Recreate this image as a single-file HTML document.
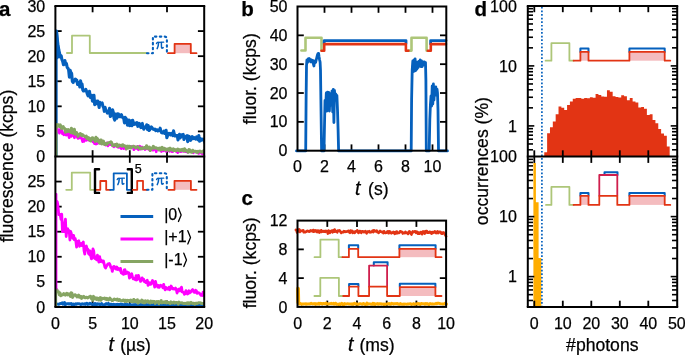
<!DOCTYPE html>
<html><head><meta charset="utf-8"><style>
html,body{margin:0;padding:0;background:#fff;overflow:hidden;}
svg{display:block;will-change:transform;}
text{stroke:currentColor;stroke-width:0.25px;}
</style></head><body>
<svg width="685" height="355" viewBox="0 0 685 355">
<defs>
<clipPath id="clipAt"><rect x="55.4" y="6.0" width="148.79999999999998" height="150.5"/></clipPath>
<clipPath id="clipAb"><rect x="55.4" y="156.5" width="148.79999999999998" height="150.39999999999998"/></clipPath>
<clipPath id="clipC"><rect x="297.5" y="220.6" width="148.60000000000002" height="86.29999999999998"/></clipPath>
</defs>
<line x1="92.60" y1="306.90" x2="92.60" y2="300.60" stroke="#000" stroke-width="1.8"/>
<line x1="92.60" y1="6.00" x2="92.60" y2="12.30" stroke="#000" stroke-width="1.8"/>
<line x1="92.60" y1="150.20" x2="92.60" y2="162.80" stroke="#000" stroke-width="1.8"/>
<line x1="129.80" y1="306.90" x2="129.80" y2="300.60" stroke="#000" stroke-width="1.8"/>
<line x1="129.80" y1="6.00" x2="129.80" y2="12.30" stroke="#000" stroke-width="1.8"/>
<line x1="129.80" y1="150.20" x2="129.80" y2="162.80" stroke="#000" stroke-width="1.8"/>
<line x1="167.00" y1="306.90" x2="167.00" y2="300.60" stroke="#000" stroke-width="1.8"/>
<line x1="167.00" y1="6.00" x2="167.00" y2="12.30" stroke="#000" stroke-width="1.8"/>
<line x1="167.00" y1="150.20" x2="167.00" y2="162.80" stroke="#000" stroke-width="1.8"/>
<line x1="55.40" y1="131.42" x2="61.70" y2="131.42" stroke="#000" stroke-width="1.8"/>
<line x1="204.20" y1="131.42" x2="197.90" y2="131.42" stroke="#000" stroke-width="1.8"/>
<line x1="55.40" y1="281.83" x2="61.70" y2="281.83" stroke="#000" stroke-width="1.8"/>
<line x1="204.20" y1="281.83" x2="197.90" y2="281.83" stroke="#000" stroke-width="1.8"/>
<line x1="55.40" y1="106.33" x2="61.70" y2="106.33" stroke="#000" stroke-width="1.8"/>
<line x1="204.20" y1="106.33" x2="197.90" y2="106.33" stroke="#000" stroke-width="1.8"/>
<line x1="55.40" y1="256.77" x2="61.70" y2="256.77" stroke="#000" stroke-width="1.8"/>
<line x1="204.20" y1="256.77" x2="197.90" y2="256.77" stroke="#000" stroke-width="1.8"/>
<line x1="55.40" y1="81.25" x2="61.70" y2="81.25" stroke="#000" stroke-width="1.8"/>
<line x1="204.20" y1="81.25" x2="197.90" y2="81.25" stroke="#000" stroke-width="1.8"/>
<line x1="55.40" y1="231.70" x2="61.70" y2="231.70" stroke="#000" stroke-width="1.8"/>
<line x1="204.20" y1="231.70" x2="197.90" y2="231.70" stroke="#000" stroke-width="1.8"/>
<line x1="55.40" y1="56.17" x2="61.70" y2="56.17" stroke="#000" stroke-width="1.8"/>
<line x1="204.20" y1="56.17" x2="197.90" y2="56.17" stroke="#000" stroke-width="1.8"/>
<line x1="55.40" y1="206.63" x2="61.70" y2="206.63" stroke="#000" stroke-width="1.8"/>
<line x1="204.20" y1="206.63" x2="197.90" y2="206.63" stroke="#000" stroke-width="1.8"/>
<line x1="55.40" y1="31.08" x2="61.70" y2="31.08" stroke="#000" stroke-width="1.8"/>
<line x1="204.20" y1="31.08" x2="197.90" y2="31.08" stroke="#000" stroke-width="1.8"/>
<line x1="55.40" y1="181.57" x2="61.70" y2="181.57" stroke="#000" stroke-width="1.8"/>
<line x1="204.20" y1="181.57" x2="197.90" y2="181.57" stroke="#000" stroke-width="1.8"/>
<g clip-path="url(#clipAt)">
<path d="M60.46,57.06 L61.20,55.80 L61.95,59.71 L62.69,61.37 L63.44,64.78 L64.18,63.67 L64.92,60.57 L65.67,64.18 L66.41,63.46 L67.16,67.33 L67.90,68.11 L68.64,70.03 L69.39,77.15 L70.13,70.20 L70.88,72.39 L71.62,73.48 L72.36,81.35 L73.11,82.51 L73.85,80.87 L74.60,80.48 L75.34,79.02 L76.08,80.97 L76.83,80.14 L77.57,84.48 L78.32,82.50 L79.06,83.10 L79.80,87.04 L80.55,80.87 L81.29,85.04 L82.04,83.96 L82.78,89.94 L83.52,91.02 L84.27,90.62 L85.01,90.66 L85.76,89.30 L86.50,91.09 L87.24,93.73 L87.99,95.82 L88.73,95.29 L89.48,91.20 L90.22,97.40 L90.96,95.21 L91.71,95.38 L92.45,101.16 L93.20,97.79 L93.94,95.23 L94.68,104.71 L95.43,101.01 L96.17,101.18 L96.92,103.73 L97.66,101.06 L98.40,103.20 L99.15,107.43 L99.89,102.34 L100.64,103.43 L101.38,103.42 L102.12,102.88 L102.87,106.19 L103.61,107.42 L104.36,111.35 L105.10,107.21 L105.84,110.61 L106.59,110.68 L107.33,113.05 L108.08,112.79 L108.82,112.20 L109.56,108.39 L110.31,116.55 L111.05,115.63 L111.80,112.15 L112.54,109.82 L113.28,112.23 L114.03,118.26 L114.77,120.05 L115.52,113.98 L116.26,116.84 L117.00,118.10 L117.75,113.87 L118.49,114.02 L119.24,116.50 L119.98,116.72 L120.72,116.71 L121.47,114.61 L122.21,117.11 L122.96,117.71 L123.70,118.04 L124.44,122.89 L125.19,117.26 L125.93,118.33 L126.68,119.59 L127.42,125.13 L128.16,122.71 L128.91,120.04 L129.65,125.81 L130.40,122.84 L131.14,120.76 L131.88,125.78 L132.63,120.28 L133.37,122.73 L134.12,124.35 L134.86,123.62 L135.60,123.19 L136.35,124.43 L137.09,122.63 L137.84,126.35 L138.58,126.07 L139.32,123.45 L140.07,125.61 L140.81,127.55 L141.56,124.23 L142.30,123.44 L143.04,127.28 L143.79,129.24 L144.53,127.06 L145.28,127.28 L146.02,127.74 L146.76,124.73 L147.51,129.53 L148.25,125.52 L149.00,130.47 L149.74,129.82 L150.48,127.46 L151.23,126.81 L151.97,127.55 L152.72,128.73 L153.46,129.34 L154.20,129.56 L154.95,129.05 L155.69,130.62 L156.44,130.05 L157.18,129.76 L157.92,131.00 L158.67,129.89 L159.41,130.47 L160.16,128.20 L160.90,131.33 L161.64,132.84 L162.39,132.96 L163.13,132.57 L163.88,131.19 L164.62,133.53 L165.36,132.53 L166.11,130.32 L166.85,137.81 L167.60,135.55 L168.34,133.43 L169.08,133.32 L169.83,133.73 L170.57,134.97 L171.32,133.34 L172.06,134.09 L172.80,135.53 L173.55,130.90 L174.29,134.39 L175.04,135.99 L175.78,135.40 L176.52,135.73 L177.27,135.61 L178.01,139.97 L178.76,136.54 L179.50,134.32 L180.24,137.89 L180.99,136.31 L181.73,134.87 L182.48,135.18 L183.22,134.35 L183.96,139.43 L184.71,137.49 L185.45,137.62 L186.20,136.29 L186.94,135.73 L187.68,141.59 L188.43,136.03 L189.17,139.98 L189.92,136.93 L190.66,140.31 L191.40,137.96 L192.15,136.60 L192.89,138.72 L193.64,138.35 L194.38,137.60 L195.12,138.69 L195.87,139.16 L196.61,136.94 L197.36,137.78 L198.10,139.84 L198.84,135.62 L199.59,141.30 L200.33,138.50 L201.08,140.30 L201.82,139.83 L202.56,139.11 L203.31,139.87 L204.05,139.37 L204.80,142.48" fill="none" stroke="#0560bd" stroke-width="3.1" stroke-linejoin="round" stroke-linecap="round" />
<path d="M56.2,31.2 L58.0,31.3 L59.5,50 L60.6,57 L56.2,60 Z" fill="#0560bd"/>
<path d="M56.14,156.50 L56.14,33.09 L56.52,31.08 L57.04,37.10 L57.93,44.13 L58.90,50.15 L59.86,54.16 L60.61,56.17" fill="none" stroke="#0560bd" stroke-width="3.0" stroke-linejoin="round" stroke-linecap="round" />
<path d="M56.52,131.39 L57.26,128.40 L58.00,131.45 L58.75,132.02 L59.49,133.18 L60.24,129.31 L60.98,130.59 L61.72,129.92 L62.47,133.99 L63.21,132.81 L63.96,134.80 L64.70,132.17 L65.44,131.19 L66.19,135.15 L66.93,131.75 L67.68,132.86 L68.42,134.82 L69.16,137.68 L69.91,132.99 L70.65,135.40 L71.40,136.36 L72.14,135.15 L72.88,135.37 L73.63,134.05 L74.37,137.83 L75.12,135.02 L75.86,134.76 L76.60,135.03 L77.35,137.50 L78.09,138.48 L78.84,136.28 L79.58,137.72 L80.32,137.91 L81.07,136.37 L81.81,138.83 L82.56,141.71 L83.30,139.38 L84.04,141.48 L84.79,138.18 L85.53,139.02 L86.28,140.41 L87.02,139.82 L87.76,138.92 L88.51,140.06 L89.25,138.67 L90.00,140.59 L90.74,139.39 L91.48,139.01 L92.23,139.05 L92.97,142.02 L93.72,140.28 L94.46,143.79 L95.20,142.98 L95.95,144.19 L96.69,140.71 L97.44,143.61 L98.18,142.31 L98.92,142.67 L99.67,142.63 L100.41,143.43 L101.16,142.62 L101.90,140.97 L102.64,143.12 L103.39,142.71 L104.13,142.32 L104.88,143.82 L105.62,145.14 L106.36,144.49 L107.11,142.81 L107.85,145.95 L108.60,144.92 L109.34,143.30 L110.08,143.66 L110.83,144.64 L111.57,143.91 L112.32,144.72 L113.06,146.27 L113.80,146.80 L114.55,145.94 L115.29,144.42 L116.04,146.09 L116.78,146.55 L117.52,146.53 L118.27,147.42 L119.01,146.08 L119.76,147.27 L120.50,145.82 L121.24,148.66 L121.99,146.07 L122.73,147.14 L123.48,148.53 L124.22,146.01 L124.96,147.09 L125.71,149.09 L126.45,147.87 L127.20,146.85 L127.94,147.66 L128.68,146.58 L129.43,146.72 L130.17,146.88 L130.92,147.27 L131.66,146.40 L132.40,147.10 L133.15,147.37 L133.89,149.78 L134.64,147.10 L135.38,146.80 L136.12,148.33 L136.87,148.55 L137.61,146.44 L138.36,149.84 L139.10,147.90 L139.84,146.22 L140.59,149.28 L141.33,147.91 L142.08,146.92 L142.82,148.75 L143.56,148.21 L144.31,147.98 L145.05,149.61 L145.80,148.97 L146.54,148.70 L147.28,148.30 L148.03,149.10 L148.77,149.29 L149.52,150.05 L150.26,149.55 L151.00,148.55 L151.75,149.27 L152.49,150.13 L153.24,150.17 L153.98,147.32 L154.72,148.64 L155.47,149.11 L156.21,151.81 L156.96,149.24 L157.70,149.41 L158.44,148.49 L159.19,149.56 L159.93,150.01 L160.68,149.59 L161.42,151.61 L162.16,149.29 L162.91,149.90 L163.65,150.76 L164.40,149.22 L165.14,148.90 L165.88,151.45 L166.63,150.92 L167.37,150.23 L168.12,150.36 L168.86,150.86 L169.60,151.34 L170.35,149.04 L171.09,149.91 L171.84,151.64 L172.58,151.79 L173.32,149.56 L174.07,150.14 L174.81,149.57 L175.56,150.36 L176.30,151.65 L177.04,150.86 L177.79,152.67 L178.53,151.68 L179.28,151.22 L180.02,150.84 L180.76,151.78 L181.51,151.39 L182.25,151.02 L183.00,151.12 L183.74,150.98 L184.48,151.32 L185.23,151.73 L185.97,150.99 L186.72,151.55 L187.46,152.20 L188.20,152.09 L188.95,151.70 L189.69,151.81 L190.44,151.67 L191.18,151.81 L191.92,151.73 L192.67,151.98 L193.41,152.77 L194.16,151.68 L194.90,151.30 L195.64,151.74 L196.39,152.19 L197.13,151.81 L197.88,152.77 L198.62,153.41 L199.36,152.17 L200.11,152.84 L200.85,151.80 L201.60,153.00 L202.34,154.02 L203.08,153.04 L203.83,151.40 L204.57,152.68" fill="none" stroke="#ff00ff" stroke-width="2.6" stroke-linejoin="round" stroke-linecap="round" />
<path d="M56.52,127.00 L57.26,126.47 L58.00,124.68 L58.75,125.34 L59.49,126.54 L60.24,124.76 L60.98,126.76 L61.72,128.62 L62.47,128.09 L63.21,126.66 L63.96,128.14 L64.70,128.34 L65.44,132.24 L66.19,130.90 L66.93,129.68 L67.68,131.68 L68.42,129.64 L69.16,130.70 L69.91,130.45 L70.65,132.56 L71.40,128.27 L72.14,130.68 L72.88,133.31 L73.63,133.05 L74.37,129.26 L75.12,134.23 L75.86,132.52 L76.60,132.59 L77.35,134.37 L78.09,136.44 L78.84,134.54 L79.58,134.50 L80.32,133.53 L81.07,134.30 L81.81,135.68 L82.56,134.63 L83.30,135.33 L84.04,136.05 L84.79,136.48 L85.53,137.13 L86.28,135.96 L87.02,138.73 L87.76,138.30 L88.51,137.57 L89.25,139.90 L90.00,138.59 L90.74,141.05 L91.48,139.32 L92.23,137.75 L92.97,138.00 L93.72,139.11 L94.46,139.58 L95.20,141.45 L95.95,137.19 L96.69,139.23 L97.44,138.66 L98.18,141.56 L98.92,140.83 L99.67,143.21 L100.41,139.96 L101.16,139.97 L101.90,143.88 L102.64,141.67 L103.39,140.98 L104.13,144.24 L104.88,144.50 L105.62,143.71 L106.36,143.35 L107.11,144.49 L107.85,142.88 L108.60,142.79 L109.34,142.50 L110.08,142.60 L110.83,141.81 L111.57,142.37 L112.32,145.46 L113.06,144.61 L113.80,145.39 L114.55,145.52 L115.29,144.47 L116.04,144.48 L116.78,144.04 L117.52,146.55 L118.27,146.26 L119.01,144.97 L119.76,145.29 L120.50,145.52 L121.24,145.35 L121.99,146.24 L122.73,144.71 L123.48,145.21 L124.22,145.80 L124.96,146.55 L125.71,146.11 L126.45,148.98 L127.20,147.18 L127.94,146.18 L128.68,147.93 L129.43,146.20 L130.17,146.35 L130.92,148.03 L131.66,146.91 L132.40,147.05 L133.15,146.31 L133.89,146.22 L134.64,146.97 L135.38,147.88 L136.12,147.22 L136.87,147.21 L137.61,146.45 L138.36,146.97 L139.10,148.08 L139.84,148.78 L140.59,147.85 L141.33,148.28 L142.08,148.72 L142.82,147.79 L143.56,148.22 L144.31,147.69 L145.05,147.34 L145.80,148.33 L146.54,145.71 L147.28,148.36 L148.03,147.04 L148.77,148.05 L149.52,147.15 L150.26,150.58 L151.00,149.07 L151.75,148.17 L152.49,147.90 L153.24,146.31 L153.98,148.28 L154.72,147.44 L155.47,147.98 L156.21,147.87 L156.96,148.34 L157.70,149.01 L158.44,148.45 L159.19,149.97 L159.93,147.95 L160.68,150.02 L161.42,148.92 L162.16,147.27 L162.91,149.45 L163.65,149.28 L164.40,148.31 L165.14,149.38 L165.88,150.18 L166.63,149.28 L167.37,149.04 L168.12,148.98 L168.86,150.34 L169.60,148.18 L170.35,148.31 L171.09,149.79 L171.84,149.62 L172.58,150.28 L173.32,148.74 L174.07,150.60 L174.81,149.47 L175.56,150.50 L176.30,150.73 L177.04,149.58 L177.79,149.11 L178.53,150.29 L179.28,150.89 L180.02,149.69 L180.76,150.46 L181.51,150.20 L182.25,149.25 L183.00,149.62 L183.74,151.01 L184.48,148.77 L185.23,150.67 L185.97,150.08 L186.72,151.28 L187.46,150.84 L188.20,152.24 L188.95,149.46 L189.69,149.84 L190.44,151.93 L191.18,152.19 L191.92,152.32 L192.67,150.17 L193.41,151.48 L194.16,151.21 L194.90,151.44 L195.64,151.33 L196.39,152.11 L197.13,151.30 L197.88,152.45 L198.62,151.45 L199.36,151.20 L200.11,151.11 L200.85,151.68 L201.60,152.22 L202.34,151.46 L203.08,151.97 L203.83,150.49 L204.57,151.12" fill="none" stroke="#86a563" stroke-width="3.0" stroke-linejoin="round" stroke-linecap="round" />
<path d="M56.52,156.50 L56.52,123.89" fill="none" stroke="#86a563" stroke-width="2.0" stroke-linejoin="round" stroke-linecap="round" />
</g>
<g clip-path="url(#clipAb)">
<path d="M56.29,303.85 L57.04,304.02 L57.78,304.14 L58.52,304.26 L59.27,303.99 L60.01,303.69 L60.76,303.60 L61.50,303.58 L62.24,302.87 L62.99,304.19 L63.73,303.86 L64.48,302.57 L65.22,304.75 L65.96,304.13 L66.71,303.82 L67.45,303.83 L68.20,303.72 L68.94,304.03 L69.68,303.76 L70.43,303.91 L71.17,303.59 L71.92,304.82 L72.66,304.36 L73.40,303.96 L74.15,304.44 L74.89,304.46 L75.64,303.70 L76.38,304.29 L77.12,303.71 L77.87,303.67 L78.61,303.87 L79.36,303.79 L80.10,304.07 L80.84,304.68 L81.59,304.05 L82.33,303.84 L83.08,304.29 L83.82,304.11 L84.56,303.73 L85.31,304.47 L86.05,303.79 L86.80,303.25 L87.54,304.35 L88.28,304.04 L89.03,304.18 L89.77,303.43 L90.52,303.98 L91.26,303.73 L92.00,304.45 L92.75,304.15 L93.49,304.16 L94.24,304.96 L94.98,303.54 L95.72,303.80 L96.47,304.98 L97.21,303.89 L97.96,304.29 L98.70,304.05 L99.44,304.10 L100.19,304.92 L100.93,304.37 L101.68,303.64 L102.42,304.55 L103.16,304.76 L103.91,304.91 L104.65,304.86 L105.40,304.21 L106.14,303.64 L106.88,304.19 L107.63,304.28 L108.37,303.45 L109.12,304.63 L109.86,304.70 L110.60,304.21 L111.35,304.21 L112.09,304.88 L112.84,304.95 L113.58,304.35 L114.32,304.38 L115.07,305.04 L115.81,304.59 L116.56,304.74 L117.30,304.34 L118.04,304.59 L118.79,304.59 L119.53,304.71 L120.28,304.14 L121.02,304.01 L121.76,304.74 L122.51,304.26 L123.25,304.92 L124.00,304.60 L124.74,304.33 L125.48,304.03 L126.23,304.81 L126.97,304.70 L127.72,304.60 L128.46,305.28 L129.20,304.69 L129.95,304.97 L130.69,304.57 L131.44,305.17 L132.18,305.52 L132.92,304.73 L133.67,304.65 L134.41,304.98 L135.16,304.43 L135.90,304.89 L136.64,305.03 L137.39,304.62 L138.13,305.42 L138.88,305.08 L139.62,304.84 L140.36,304.51 L141.11,304.91 L141.85,304.74 L142.60,305.12 L143.34,304.76 L144.08,304.25 L144.83,305.16 L145.57,304.00 L146.32,305.15 L147.06,304.91 L147.80,304.86 L148.55,304.54 L149.29,305.40 L150.04,305.73 L150.78,304.72 L151.52,304.66 L152.27,304.73 L153.01,303.99 L153.76,304.90 L154.50,304.89 L155.24,304.65 L155.99,304.86 L156.73,304.39 L157.48,305.47 L158.22,305.16 L158.96,306.29 L159.71,304.73 L160.45,305.17 L161.20,304.71 L161.94,304.26 L162.68,305.06 L163.43,305.16 L164.17,305.25 L164.92,305.38 L165.66,305.31 L166.40,304.86 L167.15,305.08 L167.89,305.08 L168.64,305.17 L169.38,304.79 L170.12,304.94 L170.87,305.18 L171.61,304.90 L172.36,305.19 L173.10,305.56 L173.84,304.64 L174.59,304.99 L175.33,305.50 L176.08,304.79 L176.82,305.06 L177.56,305.73 L178.31,304.62 L179.05,305.08 L179.80,304.89 L180.54,305.14 L181.28,305.26 L182.03,305.76 L182.77,304.89 L183.52,305.22 L184.26,305.34 L185.00,305.12 L185.75,305.22 L186.49,305.02 L187.24,305.39 L187.98,305.28 L188.72,306.00 L189.47,305.42 L190.21,305.05 L190.96,304.83 L191.70,305.42 L192.44,305.34 L193.19,304.77 L193.93,305.42 L194.68,305.07 L195.42,304.75 L196.16,305.31 L196.91,304.92 L197.65,305.58 L198.40,305.27 L199.14,305.37 L199.88,305.32 L200.63,304.98 L201.37,304.57 L202.12,305.59 L202.86,305.57 L203.60,305.22 L204.35,305.74" fill="none" stroke="#0560bd" stroke-width="3.0" stroke-linejoin="round" stroke-linecap="round" />
<path d="M56.29,289.26 L57.04,290.05 L57.78,291.86 L58.52,291.74 L59.27,294.75 L60.01,292.98 L60.76,295.76 L61.50,294.96 L62.24,294.90 L62.99,294.82 L63.73,293.61 L64.48,294.49 L65.22,295.06 L65.96,294.18 L66.71,293.22 L67.45,294.89 L68.20,294.61 L68.94,293.81 L69.68,294.86 L70.43,296.49 L71.17,292.82 L71.92,293.18 L72.66,297.39 L73.40,295.55 L74.15,295.18 L74.89,294.72 L75.64,295.09 L76.38,296.08 L77.12,296.91 L77.87,295.90 L78.61,295.12 L79.36,297.26 L80.10,297.30 L80.84,296.45 L81.59,298.35 L82.33,296.88 L83.08,297.15 L83.82,296.43 L84.56,297.59 L85.31,297.85 L86.05,297.50 L86.80,297.28 L87.54,297.93 L88.28,297.42 L89.03,296.86 L89.77,296.57 L90.52,296.21 L91.26,298.49 L92.00,298.26 L92.75,300.12 L93.49,296.39 L94.24,298.73 L94.98,298.20 L95.72,297.80 L96.47,299.47 L97.21,297.99 L97.96,298.47 L98.70,300.06 L99.44,298.34 L100.19,297.65 L100.93,300.27 L101.68,298.11 L102.42,298.67 L103.16,298.52 L103.91,298.61 L104.65,297.97 L105.40,299.28 L106.14,298.45 L106.88,299.55 L107.63,298.70 L108.37,300.00 L109.12,299.49 L109.86,298.09 L110.60,299.17 L111.35,299.71 L112.09,300.54 L112.84,300.32 L113.58,299.61 L114.32,299.08 L115.07,299.54 L115.81,299.52 L116.56,300.01 L117.30,299.01 L118.04,300.39 L118.79,300.56 L119.53,299.53 L120.28,300.20 L121.02,300.51 L121.76,300.79 L122.51,300.60 L123.25,300.00 L124.00,300.25 L124.74,301.45 L125.48,300.30 L126.23,300.53 L126.97,301.44 L127.72,300.21 L128.46,301.01 L129.20,301.10 L129.95,300.34 L130.69,300.02 L131.44,301.49 L132.18,300.74 L132.92,301.71 L133.67,299.52 L134.41,301.52 L135.16,300.38 L135.90,301.69 L136.64,300.71 L137.39,299.78 L138.13,303.08 L138.88,301.66 L139.62,301.06 L140.36,301.49 L141.11,301.91 L141.85,300.03 L142.60,301.47 L143.34,302.66 L144.08,301.01 L144.83,302.77 L145.57,300.88 L146.32,302.06 L147.06,301.61 L147.80,300.90 L148.55,301.68 L149.29,302.71 L150.04,302.93 L150.78,301.08 L151.52,301.39 L152.27,302.44 L153.01,301.38 L153.76,301.64 L154.50,301.57 L155.24,303.47 L155.99,302.24 L156.73,301.50 L157.48,301.63 L158.22,301.57 L158.96,303.71 L159.71,302.08 L160.45,301.90 L161.20,300.63 L161.94,302.86 L162.68,302.49 L163.43,302.29 L164.17,301.79 L164.92,302.64 L165.66,301.68 L166.40,302.90 L167.15,302.28 L167.89,302.79 L168.64,302.40 L169.38,302.94 L170.12,303.51 L170.87,301.91 L171.61,302.41 L172.36,302.95 L173.10,302.52 L173.84,302.07 L174.59,303.27 L175.33,302.78 L176.08,302.42 L176.82,302.45 L177.56,302.98 L178.31,304.05 L179.05,302.10 L179.80,302.66 L180.54,302.87 L181.28,303.06 L182.03,302.77 L182.77,303.19 L183.52,303.56 L184.26,303.42 L185.00,303.36 L185.75,303.39 L186.49,303.72 L187.24,302.72 L187.98,303.84 L188.72,302.75 L189.47,303.71 L190.21,302.96 L190.96,302.39 L191.70,303.06 L192.44,303.60 L193.19,303.17 L193.93,303.13 L194.68,304.19 L195.42,303.57 L196.16,303.16 L196.91,303.52 L197.65,303.23 L198.40,302.87 L199.14,302.87 L199.88,302.80 L200.63,302.99 L201.37,303.48 L202.12,303.35 L202.86,303.50 L203.60,303.53 L204.35,303.47" fill="none" stroke="#86a563" stroke-width="3.0" stroke-linejoin="round" stroke-linecap="round" />
<path d="M56.52,201.33 L57.26,201.76 L58.00,206.06 L58.75,214.56 L59.49,214.15 L60.24,214.66 L60.98,219.26 L61.72,214.04 L62.47,231.66 L63.21,225.35 L63.96,231.55 L64.70,223.49 L65.44,219.13 L66.19,236.48 L66.93,229.08 L67.68,228.78 L68.42,232.25 L69.16,230.50 L69.91,240.00 L70.65,231.37 L71.40,233.71 L72.14,235.63 L72.88,238.31 L73.63,235.47 L74.37,239.64 L75.12,238.36 L75.86,241.32 L76.60,247.18 L77.35,241.51 L78.09,241.63 L78.84,240.83 L79.58,246.26 L80.32,244.62 L81.07,243.54 L81.81,245.61 L82.56,243.30 L83.30,241.97 L84.04,250.68 L84.79,254.14 L85.53,247.23 L86.28,246.03 L87.02,248.28 L87.76,249.18 L88.51,253.58 L89.25,254.40 L90.00,250.76 L90.74,256.04 L91.48,258.94 L92.23,257.36 L92.97,248.92 L93.72,250.95 L94.46,258.16 L95.20,258.79 L95.95,256.89 L96.69,259.87 L97.44,255.24 L98.18,259.21 L98.92,262.15 L99.67,256.64 L100.41,261.67 L101.16,260.09 L101.90,261.04 L102.64,262.14 L103.39,260.97 L104.13,263.79 L104.88,266.90 L105.62,268.11 L106.36,266.22 L107.11,265.37 L107.85,263.99 L108.60,264.16 L109.34,263.46 L110.08,264.93 L110.83,267.49 L111.57,267.73 L112.32,271.38 L113.06,267.38 L113.80,266.34 L114.55,266.67 L115.29,268.55 L116.04,269.09 L116.78,267.06 L117.52,269.50 L118.27,268.33 L119.01,269.08 L119.76,270.28 L120.50,268.33 L121.24,272.74 L121.99,272.66 L122.73,273.99 L123.48,274.33 L124.22,269.79 L124.96,269.75 L125.71,273.72 L126.45,272.96 L127.20,272.09 L127.94,273.20 L128.68,272.75 L129.43,278.06 L130.17,277.15 L130.92,275.31 L131.66,273.71 L132.40,276.67 L133.15,278.88 L133.89,278.21 L134.64,279.12 L135.38,279.81 L136.12,275.61 L136.87,279.97 L137.61,279.05 L138.36,275.33 L139.10,277.48 L139.84,279.36 L140.59,281.41 L141.33,279.81 L142.08,277.89 L142.82,280.01 L143.56,279.14 L144.31,281.52 L145.05,281.01 L145.80,282.50 L146.54,281.59 L147.28,280.25 L148.03,285.27 L148.77,283.07 L149.52,282.73 L150.26,284.34 L151.00,284.08 L151.75,282.38 L152.49,280.50 L153.24,283.05 L153.98,283.76 L154.72,287.13 L155.47,281.43 L156.21,284.74 L156.96,285.11 L157.70,287.10 L158.44,285.51 L159.19,287.40 L159.93,285.65 L160.68,285.18 L161.42,286.06 L162.16,285.83 L162.91,287.84 L163.65,284.32 L164.40,287.85 L165.14,289.87 L165.88,287.43 L166.63,288.50 L167.37,289.05 L168.12,288.17 L168.86,287.32 L169.60,289.78 L170.35,288.31 L171.09,286.04 L171.84,287.35 L172.58,288.79 L173.32,288.51 L174.07,289.04 L174.81,289.08 L175.56,288.05 L176.30,289.44 L177.04,293.05 L177.79,289.63 L178.53,291.06 L179.28,288.92 L180.02,290.92 L180.76,289.94 L181.51,287.12 L182.25,291.96 L183.00,292.20 L183.74,292.74 L184.48,294.28 L185.23,293.66 L185.97,290.59 L186.72,292.15 L187.46,294.01 L188.20,293.58 L188.95,290.76 L189.69,292.83 L190.44,292.39 L191.18,291.55 L191.92,290.26 L192.67,289.59 L193.41,290.96 L194.16,292.30 L194.90,292.36 L195.64,290.30 L196.39,290.93 L197.13,293.38 L197.88,292.47 L198.62,292.81 L199.36,293.24 L200.11,294.05 L200.85,295.20 L201.60,294.22 L202.34,295.60 L203.08,292.05 L203.83,293.01 L204.57,295.34" fill="none" stroke="#ff00ff" stroke-width="2.8" stroke-linejoin="round" stroke-linecap="round" />
<path d="M56.29,289.85 L56.29,194.10" fill="none" stroke="#ff00ff" stroke-width="2.2" stroke-linejoin="round" stroke-linecap="round" />
<path d="M56.14,306.90 L56.14,289.85" fill="none" stroke="#86a563" stroke-width="2.0" stroke-linejoin="round" stroke-linecap="round" />
</g>
<path d="M66.9,53.0 H72 V35.7 H89.8 V53.0 H147" fill="none" stroke="#adc679" stroke-width="1.8" stroke-linejoin="round" stroke-linecap="round" />
<rect x="174.6" y="43.8" width="16.2" height="9.4" fill="#f4bcbf"/>
<path d="M168,53.2 H174.6 V43.8 H190.8 V53.2 H196.5" fill="none" stroke="#e23414" stroke-width="1.8" stroke-linejoin="round" stroke-linecap="round" />
<path d="M147,53.2 H152.9 V36.6 H164.6 Q166.9,36.6 166.9,39 V53.2" fill="none" stroke="#0560bd" stroke-width="2.1" stroke-linejoin="round" stroke-linecap="round" stroke-dasharray="1.5,3.4"/>
<g transform="translate(156.20,41.90)" fill="none" stroke="#0560bd" stroke-linecap="round" stroke-linejoin="round"><path d="M0.25,1.75 Q0.7,0.35 1.9,0.4 L7.45,0.3" stroke-width="1.35"/><path d="M2.35,0.6 Q2.3,4.3 0.95,6.7" stroke-width="1.55"/><path d="M5.15,0.6 L5.3,5.5 Q5.5,7.0 7.0,5.7" stroke-width="1.45"/></g>
<path d="M66.2,189.8 H71.8 V172.6 H90.2 V189.8 H93.8" fill="none" stroke="#adc679" stroke-width="1.8" stroke-linejoin="round" stroke-linecap="round" />
<path d="M96,189.8 H100.3 V181 H106.2 V189.8 H110.1" fill="none" stroke="#e23414" stroke-width="1.8" stroke-linejoin="round" stroke-linecap="round" />
<path d="M110.1,189.8 H113.7 V173.3 H126.9 V189.8 H131" fill="none" stroke="#0560bd" stroke-width="1.8" stroke-linejoin="round" stroke-linecap="round" />
<g transform="translate(116.90,177.90)" fill="none" stroke="#0560bd" stroke-linecap="round" stroke-linejoin="round"><path d="M0.25,1.75 Q0.7,0.35 1.9,0.4 L7.45,0.3" stroke-width="1.35"/><path d="M2.35,0.6 Q2.3,4.3 0.95,6.7" stroke-width="1.55"/><path d="M5.15,0.6 L5.3,5.5 Q5.5,7.0 7.0,5.7" stroke-width="1.45"/></g>
<path d="M99.1,169.2 H95 V192.9 H99.1" fill="none" stroke="#000" stroke-width="2.4" stroke-linejoin="round" stroke-linecap="round" stroke-linecap="butt" stroke-linejoin="miter"/>
<path d="M127.8,169.2 H131.8 V192.9 H127.8" fill="none" stroke="#000" stroke-width="2.4" stroke-linejoin="round" stroke-linecap="round" stroke-linecap="butt" stroke-linejoin="miter"/>
<text x="138.20" y="173.40" font-size="12.5" text-anchor="middle" fill="#000" font-family='"Liberation Sans", sans-serif' >5</text>
<path d="M132.9,189.8 H137.2 V180.8 H143 V189.8 H147" fill="none" stroke="#e23414" stroke-width="1.8" stroke-linejoin="round" stroke-linecap="round" />
<path d="M147,189.8 H152.4 V173.2 H164.5 Q166.8,173.2 166.8,175.5 V189.8" fill="none" stroke="#0560bd" stroke-width="2.1" stroke-linejoin="round" stroke-linecap="round" stroke-dasharray="1.5,3.4"/>
<g transform="translate(156.30,177.90)" fill="none" stroke="#0560bd" stroke-linecap="round" stroke-linejoin="round"><path d="M0.25,1.75 Q0.7,0.35 1.9,0.4 L7.45,0.3" stroke-width="1.35"/><path d="M2.35,0.6 Q2.3,4.3 0.95,6.7" stroke-width="1.55"/><path d="M5.15,0.6 L5.3,5.5 Q5.5,7.0 7.0,5.7" stroke-width="1.45"/></g>
<rect x="174.5" y="180.8" width="16.4" height="9" fill="#f4bcbf"/>
<path d="M168.4,189.8 H174.5 V180.8 H190.9 V189.8 H196.5" fill="none" stroke="#e23414" stroke-width="1.8" stroke-linejoin="round" stroke-linecap="round" />
<line x1="120.50" y1="216.50" x2="153.20" y2="216.50" stroke="#0560bd" stroke-width="3.0"/>
<text x="164.20" y="219.50" font-size="16" text-anchor="start" fill="#000" font-family='"Liberation Sans", sans-serif' >|0</text>
<path d="M178.46,208.20 L181.16,214.90 L178.46,221.50" fill="none" stroke="#000" stroke-width="1.3" stroke-linejoin="round" stroke-linecap="round" stroke-linecap="butt" stroke-linejoin="miter"/>
<line x1="120.50" y1="239.00" x2="153.20" y2="239.00" stroke="#ff00ff" stroke-width="3.0"/>
<text x="164.20" y="242.00" font-size="16" text-anchor="start" fill="#000" font-family='"Liberation Sans", sans-serif' >|+1</text>
<path d="M187.80,230.70 L190.50,237.40 L187.80,244.00" fill="none" stroke="#000" stroke-width="1.3" stroke-linejoin="round" stroke-linecap="round" stroke-linecap="butt" stroke-linejoin="miter"/>
<line x1="120.50" y1="261.50" x2="153.20" y2="261.50" stroke="#86a563" stroke-width="3.0"/>
<text x="164.20" y="264.50" font-size="16" text-anchor="start" fill="#000" font-family='"Liberation Sans", sans-serif' >|-1</text>
<path d="M183.79,253.20 L186.49,259.90 L183.79,266.50" fill="none" stroke="#000" stroke-width="1.3" stroke-linejoin="round" stroke-linecap="round" stroke-linecap="butt" stroke-linejoin="miter"/>
<line x1="54.40" y1="6.00" x2="205.20" y2="6.00" stroke="#000" stroke-width="2.0"/>
<line x1="54.40" y1="156.50" x2="205.20" y2="156.50" stroke="#000" stroke-width="2.0"/>
<line x1="54.40" y1="306.90" x2="205.20" y2="306.90" stroke="#000" stroke-width="2.0"/>
<line x1="55.40" y1="6.00" x2="55.40" y2="306.90" stroke="#000" stroke-width="2.0"/>
<line x1="204.20" y1="6.00" x2="204.20" y2="306.90" stroke="#000" stroke-width="2.0"/>
<text x="45.20" y="162.10" font-size="16" text-anchor="end" fill="#000" font-family='"Liberation Sans", sans-serif' >0</text>
<text x="45.20" y="137.02" font-size="16" text-anchor="end" fill="#000" font-family='"Liberation Sans", sans-serif' >5</text>
<text x="45.20" y="111.93" font-size="16" text-anchor="end" fill="#000" font-family='"Liberation Sans", sans-serif' >10</text>
<text x="45.20" y="86.85" font-size="16" text-anchor="end" fill="#000" font-family='"Liberation Sans", sans-serif' >15</text>
<text x="45.20" y="61.77" font-size="16" text-anchor="end" fill="#000" font-family='"Liberation Sans", sans-serif' >20</text>
<text x="45.20" y="36.68" font-size="16" text-anchor="end" fill="#000" font-family='"Liberation Sans", sans-serif' >25</text>
<text x="45.20" y="11.60" font-size="16" text-anchor="end" fill="#000" font-family='"Liberation Sans", sans-serif' >30</text>
<text x="45.20" y="312.50" font-size="16" text-anchor="end" fill="#000" font-family='"Liberation Sans", sans-serif' >0</text>
<text x="45.20" y="287.43" font-size="16" text-anchor="end" fill="#000" font-family='"Liberation Sans", sans-serif' >5</text>
<text x="45.20" y="262.37" font-size="16" text-anchor="end" fill="#000" font-family='"Liberation Sans", sans-serif' >10</text>
<text x="45.20" y="237.30" font-size="16" text-anchor="end" fill="#000" font-family='"Liberation Sans", sans-serif' >15</text>
<text x="45.20" y="212.23" font-size="16" text-anchor="end" fill="#000" font-family='"Liberation Sans", sans-serif' >20</text>
<text x="45.20" y="187.17" font-size="16" text-anchor="end" fill="#000" font-family='"Liberation Sans", sans-serif' >25</text>
<text x="55.40" y="329.00" font-size="16" text-anchor="middle" fill="#000" font-family='"Liberation Sans", sans-serif' >0</text>
<text x="92.60" y="329.00" font-size="16" text-anchor="middle" fill="#000" font-family='"Liberation Sans", sans-serif' >5</text>
<text x="129.80" y="329.00" font-size="16" text-anchor="middle" fill="#000" font-family='"Liberation Sans", sans-serif' >10</text>
<text x="167.00" y="329.00" font-size="16" text-anchor="middle" fill="#000" font-family='"Liberation Sans", sans-serif' >15</text>
<text x="204.20" y="329.00" font-size="16" text-anchor="middle" fill="#000" font-family='"Liberation Sans", sans-serif' >20</text>
<line x1="324.50" y1="150.70" x2="324.50" y2="144.40" stroke="#000" stroke-width="1.8"/>
<line x1="324.50" y1="6.50" x2="324.50" y2="12.80" stroke="#000" stroke-width="1.8"/>
<line x1="351.50" y1="150.70" x2="351.50" y2="144.40" stroke="#000" stroke-width="1.8"/>
<line x1="351.50" y1="6.50" x2="351.50" y2="12.80" stroke="#000" stroke-width="1.8"/>
<line x1="378.50" y1="150.70" x2="378.50" y2="144.40" stroke="#000" stroke-width="1.8"/>
<line x1="378.50" y1="6.50" x2="378.50" y2="12.80" stroke="#000" stroke-width="1.8"/>
<line x1="405.50" y1="150.70" x2="405.50" y2="144.40" stroke="#000" stroke-width="1.8"/>
<line x1="405.50" y1="6.50" x2="405.50" y2="12.80" stroke="#000" stroke-width="1.8"/>
<line x1="432.50" y1="150.70" x2="432.50" y2="144.40" stroke="#000" stroke-width="1.8"/>
<line x1="432.50" y1="6.50" x2="432.50" y2="12.80" stroke="#000" stroke-width="1.8"/>
<line x1="297.50" y1="121.86" x2="303.80" y2="121.86" stroke="#000" stroke-width="1.8"/>
<line x1="446.30" y1="121.86" x2="440.00" y2="121.86" stroke="#000" stroke-width="1.8"/>
<line x1="297.50" y1="93.02" x2="303.80" y2="93.02" stroke="#000" stroke-width="1.8"/>
<line x1="446.30" y1="93.02" x2="440.00" y2="93.02" stroke="#000" stroke-width="1.8"/>
<line x1="297.50" y1="64.18" x2="303.80" y2="64.18" stroke="#000" stroke-width="1.8"/>
<line x1="446.30" y1="64.18" x2="440.00" y2="64.18" stroke="#000" stroke-width="1.8"/>
<line x1="297.50" y1="35.34" x2="303.80" y2="35.34" stroke="#000" stroke-width="1.8"/>
<line x1="446.30" y1="35.34" x2="440.00" y2="35.34" stroke="#000" stroke-width="1.8"/>
<path d="M301.4,50.5 H305.5 V37.8 H321.5 V50.5" fill="none" stroke="#adc679" stroke-width="2.6" stroke-linejoin="round" stroke-linecap="round" />
<path d="M408.4,50.6 H411.5 V37.8 H426.6 V50.6" fill="none" stroke="#adc679" stroke-width="2.6" stroke-linejoin="round" stroke-linecap="round" />
<path d="M324.2,44 V40.6 H406.0 V43.5" fill="none" stroke="#0560bd" stroke-width="2.8" stroke-linejoin="round" stroke-linecap="round" />
<path d="M430.6,44 V40.6 H446" fill="none" stroke="#0560bd" stroke-width="2.8" stroke-linejoin="round" stroke-linecap="round" />
<path d="M321.5,50.8 H324.2 V44.1 H405.9 V50.8 H408.4" fill="none" stroke="#e23414" stroke-width="2.6" stroke-linejoin="round" stroke-linecap="round" />
<path d="M427.8,50.8 H430.8 V44.1 H446" fill="none" stroke="#e23414" stroke-width="2.6" stroke-linejoin="round" stroke-linecap="round" />
<path d="M296.50,150.90 L305.70,150.90 L306.10,100.00 L306.50,66.00 L306.90,60.00 L307.50,62.50 L308.10,59.00 L308.70,61.50 L309.30,58.50 L309.90,61.00 L310.50,59.50 L311.10,62.00 L311.70,60.00 L312.30,61.50 L312.90,60.50 L313.40,64.00 L313.90,66.00 L314.40,62.00 L315.00,61.00 L315.60,62.50 L316.20,60.00 L316.80,57.50 L317.40,55.00 L318.00,53.60 L318.60,53.40 L319.10,57.00 L319.60,60.00 L320.10,62.00 L320.50,70.00 L320.90,100.00 L321.60,150.90 L324.00,150.90 L324.50,125.00 L325.00,100.50 L325.60,110.00 L326.30,93.00 L326.90,111.00 L327.50,92.10 L328.10,108.00 L328.70,92.50 L329.40,111.00 L330.00,94.00 L330.80,93.50 L331.40,105.00 L332.00,91.00 L332.70,112.00 L333.30,89.40 L333.90,122.50 L334.50,90.50 L335.10,100.00 L335.70,94.00 L336.30,96.00 L336.90,95.50 L337.50,110.00 L338.10,130.00 L338.60,150.90 L411.20,150.90 L411.60,100.00 L412.20,70.00 L412.80,61.00 L413.40,71.50 L414.00,60.00 L414.60,71.00 L415.10,58.80 L415.70,70.50 L416.30,62.00 L416.90,69.00 L417.50,63.00 L418.10,67.50 L418.80,61.50 L419.50,66.00 L420.20,59.80 L420.80,66.50 L421.50,61.00 L422.20,66.50 L422.90,62.00 L423.60,65.00 L424.30,61.80 L425.00,63.00 L425.50,62.50 L425.90,80.00 L426.30,150.90 L429.20,150.90 L429.80,120.00 L430.40,105.00 L431.00,96.00 L431.60,106.00 L432.20,86.00 L432.80,104.00 L433.40,84.00 L434.00,100.00 L434.60,88.00 L435.20,95.00 L435.80,87.00 L436.40,92.00 L437.00,89.00 L437.50,93.00 L438.00,110.00 L438.50,150.90 L447.50,150.90" fill="none" stroke="#0560bd" stroke-width="2.8" stroke-linejoin="round" stroke-linecap="round" />
<rect x="297.5" y="6.5" width="148.80" height="144.20" fill="none" stroke="#000" stroke-width="2.0"/>
<text x="287.50" y="156.30" font-size="16" text-anchor="end" fill="#000" font-family='"Liberation Sans", sans-serif' >0</text>
<text x="287.50" y="127.46" font-size="16" text-anchor="end" fill="#000" font-family='"Liberation Sans", sans-serif' >10</text>
<text x="287.50" y="98.62" font-size="16" text-anchor="end" fill="#000" font-family='"Liberation Sans", sans-serif' >20</text>
<text x="287.50" y="69.78" font-size="16" text-anchor="end" fill="#000" font-family='"Liberation Sans", sans-serif' >30</text>
<text x="287.50" y="40.94" font-size="16" text-anchor="end" fill="#000" font-family='"Liberation Sans", sans-serif' >40</text>
<text x="287.50" y="12.10" font-size="16" text-anchor="end" fill="#000" font-family='"Liberation Sans", sans-serif' >50</text>
<text x="297.50" y="172.30" font-size="16" text-anchor="middle" fill="#000" font-family='"Liberation Sans", sans-serif' >0</text>
<text x="324.50" y="172.30" font-size="16" text-anchor="middle" fill="#000" font-family='"Liberation Sans", sans-serif' >2</text>
<text x="351.50" y="172.30" font-size="16" text-anchor="middle" fill="#000" font-family='"Liberation Sans", sans-serif' >4</text>
<text x="378.50" y="172.30" font-size="16" text-anchor="middle" fill="#000" font-family='"Liberation Sans", sans-serif' >6</text>
<text x="405.50" y="172.30" font-size="16" text-anchor="middle" fill="#000" font-family='"Liberation Sans", sans-serif' >8</text>
<text x="432.50" y="172.30" font-size="16" text-anchor="middle" fill="#000" font-family='"Liberation Sans", sans-serif' >10</text>
<line x1="327.30" y1="306.90" x2="327.30" y2="300.60" stroke="#000" stroke-width="1.8"/>
<line x1="327.30" y1="220.60" x2="327.30" y2="226.90" stroke="#000" stroke-width="1.8"/>
<line x1="357.00" y1="306.90" x2="357.00" y2="300.60" stroke="#000" stroke-width="1.8"/>
<line x1="357.00" y1="220.60" x2="357.00" y2="226.90" stroke="#000" stroke-width="1.8"/>
<line x1="386.70" y1="306.90" x2="386.70" y2="300.60" stroke="#000" stroke-width="1.8"/>
<line x1="386.70" y1="220.60" x2="386.70" y2="226.90" stroke="#000" stroke-width="1.8"/>
<line x1="416.40" y1="306.90" x2="416.40" y2="300.60" stroke="#000" stroke-width="1.8"/>
<line x1="416.40" y1="220.60" x2="416.40" y2="226.90" stroke="#000" stroke-width="1.8"/>
<line x1="297.50" y1="278.13" x2="303.80" y2="278.13" stroke="#000" stroke-width="1.8"/>
<line x1="446.10" y1="278.13" x2="439.80" y2="278.13" stroke="#000" stroke-width="1.8"/>
<line x1="297.50" y1="249.37" x2="303.80" y2="249.37" stroke="#000" stroke-width="1.8"/>
<line x1="446.10" y1="249.37" x2="439.80" y2="249.37" stroke="#000" stroke-width="1.8"/>
<path d="M295.82,229.90 L296.49,230.31 L297.15,232.53 L297.82,229.57 L298.49,230.40 L299.16,229.41 L299.83,232.03 L300.50,230.64 L301.16,230.74 L301.83,230.92 L302.50,230.95 L303.17,230.26 L303.84,232.29 L304.51,232.09 L305.17,232.22 L305.84,231.57 L306.51,231.61 L307.18,230.85 L307.85,230.94 L308.51,231.14 L309.18,231.70 L309.85,231.53 L310.52,230.43 L311.19,230.59 L311.86,231.12 L312.52,231.46 L313.19,229.99 L313.86,231.69 L314.53,230.72 L315.20,230.33 L315.87,231.46 L316.53,230.60 L317.20,232.15 L317.87,230.47 L318.54,231.12 L319.21,232.54 L319.88,230.77 L320.54,232.01 L321.21,230.30 L321.88,231.86 L322.55,231.46 L323.22,231.11 L323.88,231.61 L324.55,231.15 L325.22,231.80 L325.89,230.84 L326.56,231.37 L327.23,231.22 L327.89,233.57 L328.56,230.48 L329.23,231.39 L329.90,232.83 L330.57,231.35 L331.24,231.07 L331.90,230.60 L332.57,232.31 L333.24,230.24 L333.91,231.59 L334.58,229.58 L335.24,231.60 L335.91,230.95 L336.58,231.79 L337.25,232.39 L337.92,230.65 L338.59,230.81 L339.25,230.32 L339.92,230.86 L340.59,232.00 L341.26,232.87 L341.93,232.08 L342.60,232.11 L343.26,232.23 L343.93,231.13 L344.60,231.34 L345.27,231.82 L345.94,231.48 L346.61,231.74 L347.27,231.46 L347.94,231.04 L348.61,230.89 L349.28,232.20 L349.95,232.85 L350.61,230.54 L351.28,231.59 L351.95,230.81 L352.62,232.99 L353.29,231.96 L353.96,231.69 L354.62,232.86 L355.29,232.13 L355.96,231.16 L356.63,230.89 L357.30,230.49 L357.97,232.44 L358.63,232.88 L359.30,231.36 L359.97,231.04 L360.64,231.64 L361.31,232.83 L361.97,231.19 L362.64,231.19 L363.31,231.39 L363.98,232.22 L364.65,231.60 L365.32,231.22 L365.98,232.30 L366.65,233.32 L367.32,231.61 L367.99,231.50 L368.66,231.88 L369.33,231.19 L369.99,232.37 L370.66,231.98 L371.33,232.16 L372.00,231.48 L372.67,230.67 L373.34,232.14 L374.00,230.33 L374.67,230.75 L375.34,231.34 L376.01,231.51 L376.68,230.58 L377.34,232.14 L378.01,232.09 L378.68,232.85 L379.35,231.64 L380.02,230.96 L380.69,231.61 L381.35,231.71 L382.02,232.21 L382.69,231.92 L383.36,233.19 L384.03,231.24 L384.70,232.41 L385.36,232.96 L386.03,232.69 L386.70,232.76 L387.37,231.44 L388.04,231.29 L388.70,233.21 L389.37,231.41 L390.04,231.44 L390.71,232.61 L391.38,233.34 L392.05,232.76 L392.71,232.68 L393.38,231.92 L394.05,232.48 L394.72,233.81 L395.39,232.03 L396.06,233.43 L396.72,231.51 L397.39,233.19 L398.06,232.79 L398.73,232.93 L399.40,232.69 L400.06,231.24 L400.73,231.60 L401.40,231.81 L402.07,232.04 L402.74,233.53 L403.41,232.72 L404.07,232.75 L404.74,233.10 L405.41,231.93 L406.08,232.93 L406.75,232.91 L407.42,233.18 L408.08,233.99 L408.75,231.90 L409.42,231.33 L410.09,232.25 L410.76,233.17 L411.43,234.55 L412.09,232.28 L412.76,231.46 L413.43,232.20 L414.10,231.70 L414.77,231.28 L415.43,231.56 L416.10,232.81 L416.77,231.64 L417.44,231.87 L418.11,233.70 L418.78,232.82 L419.44,233.63 L420.11,232.60 L420.78,232.06 L421.45,233.37 L422.12,234.16 L422.79,231.52 L423.45,232.25 L424.12,231.40 L424.79,233.61 L425.46,231.74 L426.13,230.94 L426.80,231.00 L427.46,232.77 L428.13,232.40 L428.80,232.74 L429.47,231.83 L430.14,231.81 L430.80,232.57 L431.47,233.72 L432.14,232.07 L432.81,233.04 L433.48,232.18 L434.15,232.47 L434.81,231.40 L435.48,231.80 L436.15,233.06 L436.82,232.44 L437.49,231.33 L438.16,233.15 L438.82,232.39 L439.49,231.80 L440.16,231.76 L440.83,232.35 L441.50,233.81 L442.16,233.78 L442.83,232.59 L443.50,232.49" fill="none" stroke="#e23414" stroke-width="2.6" stroke-linejoin="round" stroke-linecap="round" />
<path d="M443.87,232.83 L446.10,236.42" fill="none" stroke="#e23414" stroke-width="2.6" stroke-linejoin="round" stroke-linecap="round" />
<path d="M298.64,302.29 L299.38,303.90 L300.12,303.34 L300.87,303.55 L301.61,304.46 L302.35,304.16 L303.09,303.82 L303.84,304.06 L304.58,303.93 L305.32,303.71 L306.06,304.17 L306.81,303.71 L307.55,304.11 L308.29,304.08 L309.03,303.69 L309.78,304.09 L310.52,303.78 L311.26,303.30 L312.00,303.87 L312.75,303.93 L313.49,303.62 L314.23,304.01 L314.97,303.49 L315.72,304.34 L316.46,303.66 L317.20,304.06 L317.94,304.17 L318.69,303.24 L319.43,304.19 L320.17,303.25 L320.91,303.64 L321.66,303.36 L322.40,304.23 L323.14,303.45 L323.88,303.36 L324.63,303.92 L325.37,303.93 L326.11,303.00 L326.85,303.82 L327.60,304.03 L328.34,304.11 L329.08,303.72 L329.82,303.76 L330.57,303.82 L331.31,303.26 L332.05,304.00 L332.79,303.71 L333.54,303.35 L334.28,304.24 L335.02,303.51 L335.76,303.22 L336.51,304.37 L337.25,304.27 L337.99,304.25 L338.73,304.54 L339.48,303.72 L340.22,304.55 L340.96,303.70 L341.70,303.36 L342.45,304.46 L343.19,303.99 L343.93,304.57 L344.67,303.60 L345.42,304.14 L346.16,303.98 L346.90,303.86 L347.64,303.68 L348.39,304.00 L349.13,303.87 L349.87,304.08 L350.61,303.84 L351.36,304.30 L352.10,303.86 L352.84,304.57 L353.58,304.06 L354.33,303.19 L355.07,303.85 L355.81,304.33 L356.55,303.79 L357.30,304.23 L358.04,304.47 L358.78,304.14 L359.52,303.61 L360.27,303.74 L361.01,303.91 L361.75,304.21 L362.49,304.27 L363.24,303.39 L363.98,303.79 L364.72,304.22 L365.46,304.64 L366.21,304.37 L366.95,302.99 L367.69,304.29 L368.43,303.91 L369.18,303.80 L369.92,303.94 L370.66,303.98 L371.40,304.37 L372.15,304.26 L372.89,303.27 L373.63,304.15 L374.37,303.58 L375.12,304.49 L375.86,303.98 L376.60,303.79 L377.34,303.51 L378.09,304.28 L378.83,303.67 L379.57,303.74 L380.31,304.14 L381.06,303.71 L381.80,304.20 L382.54,304.17 L383.28,303.89 L384.03,304.86 L384.77,303.92 L385.51,304.24 L386.25,304.41 L387.00,304.03 L387.74,303.61 L388.48,304.02 L389.22,303.42 L389.97,304.30 L390.71,304.35 L391.45,303.32 L392.19,303.74 L392.94,303.54 L393.68,304.18 L394.42,303.59 L395.16,303.79 L395.91,303.65 L396.65,303.87 L397.39,303.45 L398.13,304.11 L398.88,304.23 L399.62,304.41 L400.36,303.46 L401.10,304.15 L401.85,304.25 L402.59,304.22 L403.33,304.04 L404.07,304.34 L404.82,303.98 L405.56,304.11 L406.30,304.08 L407.04,304.22 L407.79,303.87 L408.53,304.05 L409.27,303.84 L410.01,303.79 L410.76,303.76 L411.50,304.67 L412.24,304.07 L412.98,304.17 L413.73,303.60 L414.47,304.45 L415.21,304.14 L415.95,303.99 L416.70,304.00 L417.44,303.52 L418.18,304.04 L418.92,303.53 L419.67,304.41 L420.41,304.53 L421.15,303.44 L421.89,303.72 L422.64,303.70 L423.38,303.84 L424.12,303.71 L424.86,304.32 L425.61,303.54 L426.35,304.07 L427.09,303.53 L427.83,303.85 L428.58,304.59 L429.32,304.34 L430.06,303.47 L430.80,303.93 L431.55,304.02 L432.29,303.79 L433.03,304.03 L433.77,304.08 L434.52,303.84 L435.26,303.83 L436.00,303.33 L436.74,303.86 L437.49,303.20 L438.23,303.23 L438.97,303.26 L439.71,303.50 L440.46,303.83 L441.20,303.83 L441.94,303.93 L442.68,304.14 L443.43,303.90 L444.17,304.11 L444.91,303.29 L445.65,303.69 L446.40,304.04" fill="none" stroke="#ffad00" stroke-width="2.9" stroke-linejoin="round" stroke-linecap="round" />
<path d="M298.0,288.6 L298.3,302.5" fill="none" stroke="#ffad00" stroke-width="3.8" stroke-linejoin="round" stroke-linecap="round" />
<path d="M314.5,257.2 H320.4 V239.6 H338.7 V257.2 H342.4" fill="none" stroke="#adc679" stroke-width="1.8" stroke-linejoin="round" stroke-linecap="round" />
<rect x="399.4" y="248.8" width="36.2" height="8.4" fill="#f4bcbf"/>
<path d="M348.9,248.8 V245.2 H358.2 V248.8" fill="none" stroke="#0560bd" stroke-width="2.0" stroke-linejoin="round" stroke-linecap="round" />
<path d="M399.4,248.8 V245.2 H435.6 V248.8" fill="none" stroke="#0560bd" stroke-width="2.0" stroke-linejoin="round" stroke-linecap="round" />
<path d="M342.4,257.2 H348.9 V248.8 H358.2 V257.2 H399.4 V248.8 H435.6 V257.2 H441.5" fill="none" stroke="#e23414" stroke-width="1.8" stroke-linejoin="round" stroke-linecap="round" />
<path d="M314.4,296 H320.3 V277.8 H338.9 V296 H343.2" fill="none" stroke="#adc679" stroke-width="1.8" stroke-linejoin="round" stroke-linecap="round" />
<rect x="399.8" y="287.1" width="35.6" height="8.9" fill="#f4bcbf"/>
<path d="M349.1,286.6 V283.9 H358.4 V286.6" fill="none" stroke="#0560bd" stroke-width="2.0" stroke-linejoin="round" stroke-linecap="round" />
<path d="M373.8,265.5 V262.2 H387.6 V265.5" fill="none" stroke="#0560bd" stroke-width="2.0" stroke-linejoin="round" stroke-linecap="round" />
<path d="M399.8,287 V283.7 H435.4 V287" fill="none" stroke="#0560bd" stroke-width="2.0" stroke-linejoin="round" stroke-linecap="round" />
<path d="M369.1,286.7 V265.6 H387.1 V286.7" fill="none" stroke="#cf1f4d" stroke-width="1.8" stroke-linejoin="round" stroke-linecap="round" />
<path d="M343.2,296 H349.1 V286.7 H358.4 V296 H369.1 V286.7 H387.1 V296 H399.8 V287.1 H435.4 V296 H441.5" fill="none" stroke="#e23414" stroke-width="1.8" stroke-linejoin="round" stroke-linecap="round" />
<rect x="297.5" y="220.6" width="148.60" height="86.30" fill="none" stroke="#000" stroke-width="2.0"/>
<text x="287.50" y="312.50" font-size="16" text-anchor="end" fill="#000" font-family='"Liberation Sans", sans-serif' >0</text>
<text x="287.50" y="283.73" font-size="16" text-anchor="end" fill="#000" font-family='"Liberation Sans", sans-serif' >4</text>
<text x="287.50" y="254.97" font-size="16" text-anchor="end" fill="#000" font-family='"Liberation Sans", sans-serif' >8</text>
<text x="287.50" y="226.20" font-size="16" text-anchor="end" fill="#000" font-family='"Liberation Sans", sans-serif' >12</text>
<text x="297.60" y="329.00" font-size="16" text-anchor="middle" fill="#000" font-family='"Liberation Sans", sans-serif' >0</text>
<text x="327.30" y="329.00" font-size="16" text-anchor="middle" fill="#000" font-family='"Liberation Sans", sans-serif' >2</text>
<text x="357.00" y="329.00" font-size="16" text-anchor="middle" fill="#000" font-family='"Liberation Sans", sans-serif' >4</text>
<text x="386.70" y="329.00" font-size="16" text-anchor="middle" fill="#000" font-family='"Liberation Sans", sans-serif' >6</text>
<text x="416.40" y="329.00" font-size="16" text-anchor="middle" fill="#000" font-family='"Liberation Sans", sans-serif' >8</text>
<text x="446.10" y="329.00" font-size="16" text-anchor="middle" fill="#000" font-family='"Liberation Sans", sans-serif' >10</text>
<path d="M544.27,156.60 V152.20 H547.12 V133.20 H549.97 V127.30 H552.82 V121.40 H555.67 V114.20 H558.52 V106.60 H561.38 V107.80 H564.22 V110.00 H567.07 V105.00 H569.92 V101.50 H572.77 V98.70 H575.62 V98.10 H578.47 V98.10 H581.32 V98.70 H584.17 V98.10 H587.02 V98.30 H589.88 V97.30 H592.72 V97.70 H595.57 V94.10 H598.42 V95.10 H601.27 V96.60 H604.12 V96.80 H606.97 V90.20 H609.82 V91.70 H612.67 V96.20 H615.52 V96.90 H618.38 V97.60 H621.22 V95.30 H624.07 V96.20 H626.92 V100.30 H629.77 V98.00 H632.62 V101.40 H635.47 V102.50 H638.32 V107.50 H641.17 V107.00 H644.02 V108.80 H646.88 V114.90 H649.72 V114.20 H652.57 V120.00 H655.42 V123.20 H658.27 V129.10 H661.12 V133.60 H663.97 V135.80 H666.82 V146.40 H669.67 V156.60 Z" fill="#e23414"/>
<path d="M533.4,307.0 V163 H535.9 V202.3 H538.6 V258.1 H541.3 V307.0 Z" fill="#ffad00"/>
<line x1="541.90" y1="6.90" x2="541.90" y2="306.00" stroke="#0560bd" stroke-width="1.7" stroke-dasharray="1.7,1.9"/>
<path d="M545.6,60.7 H551.4 V43.2 H569.4 V60.7 H573.6" fill="none" stroke="#adc679" stroke-width="1.8" stroke-linejoin="round" stroke-linecap="round" />
<rect x="580.4" y="51.9" width="8.1" height="8.8" fill="#f4bcbf"/>
<rect x="629.4" y="51.9" width="35.3" height="8.8" fill="#f4bcbf"/>
<path d="M580.4,51.9 V48.6 H588.5 V51.9" fill="none" stroke="#0560bd" stroke-width="2.0" stroke-linejoin="round" stroke-linecap="round" />
<path d="M629.4,51.9 V48.6 H664.7 V51.9" fill="none" stroke="#0560bd" stroke-width="2.0" stroke-linejoin="round" stroke-linecap="round" />
<path d="M573.6,60.7 H580.4 V51.9 H588.5 V60.7 H629.4 V51.9 H664.7 V60.7 H670.3" fill="none" stroke="#e23414" stroke-width="1.8" stroke-linejoin="round" stroke-linecap="round" />
<path d="M546,204.9 H551.4 V186.9 H569.4 V204.9 H573.6" fill="none" stroke="#adc679" stroke-width="1.8" stroke-linejoin="round" stroke-linecap="round" />
<rect x="580.4" y="195.8" width="8.1" height="9.1" fill="#f4bcbf"/>
<rect x="629.4" y="195.8" width="35.3" height="9.1" fill="#f4bcbf"/>
<path d="M580.4,195.8 V193 H588.5 V195.8" fill="none" stroke="#0560bd" stroke-width="2.0" stroke-linejoin="round" stroke-linecap="round" />
<path d="M604.5,175 V172.2 H617.5 V175" fill="none" stroke="#0560bd" stroke-width="2.0" stroke-linejoin="round" stroke-linecap="round" />
<path d="M629.4,195.8 V193 H664.7 V195.8" fill="none" stroke="#0560bd" stroke-width="2.0" stroke-linejoin="round" stroke-linecap="round" />
<path d="M599.3,195.8 V175 H617.3 V195.8" fill="none" stroke="#cf1f4d" stroke-width="1.8" stroke-linejoin="round" stroke-linecap="round" />
<path d="M573.6,204.9 H580.4 V195.8 H588.5 V204.9 H599.3 V195.8 H617.3 V204.9 H629.4 V195.8 H664.7 V204.9 H670.3" fill="none" stroke="#e23414" stroke-width="1.8" stroke-linejoin="round" stroke-linecap="round" />
<line x1="526.80" y1="5.90" x2="678.20" y2="5.90" stroke="#000" stroke-width="2.0"/>
<line x1="526.80" y1="156.60" x2="678.20" y2="156.60" stroke="#000" stroke-width="2.0"/>
<line x1="526.80" y1="307.00" x2="678.20" y2="307.00" stroke="#000" stroke-width="2.0"/>
<line x1="527.80" y1="5.90" x2="527.80" y2="307.00" stroke="#000" stroke-width="2.0"/>
<line x1="677.20" y1="5.90" x2="677.20" y2="307.00" stroke="#000" stroke-width="2.0"/>
<line x1="534.30" y1="307.00" x2="534.30" y2="300.70" stroke="#000" stroke-width="1.8"/>
<line x1="534.30" y1="5.90" x2="534.30" y2="12.20" stroke="#000" stroke-width="1.8"/>
<line x1="534.30" y1="150.30" x2="534.30" y2="162.90" stroke="#000" stroke-width="1.8"/>
<line x1="562.80" y1="307.00" x2="562.80" y2="300.70" stroke="#000" stroke-width="1.8"/>
<line x1="562.80" y1="5.90" x2="562.80" y2="12.20" stroke="#000" stroke-width="1.8"/>
<line x1="562.80" y1="150.30" x2="562.80" y2="162.90" stroke="#000" stroke-width="1.8"/>
<line x1="591.30" y1="307.00" x2="591.30" y2="300.70" stroke="#000" stroke-width="1.8"/>
<line x1="591.30" y1="5.90" x2="591.30" y2="12.20" stroke="#000" stroke-width="1.8"/>
<line x1="591.30" y1="150.30" x2="591.30" y2="162.90" stroke="#000" stroke-width="1.8"/>
<line x1="619.80" y1="307.00" x2="619.80" y2="300.70" stroke="#000" stroke-width="1.8"/>
<line x1="619.80" y1="5.90" x2="619.80" y2="12.20" stroke="#000" stroke-width="1.8"/>
<line x1="619.80" y1="150.30" x2="619.80" y2="162.90" stroke="#000" stroke-width="1.8"/>
<line x1="648.30" y1="307.00" x2="648.30" y2="300.70" stroke="#000" stroke-width="1.8"/>
<line x1="648.30" y1="5.90" x2="648.30" y2="12.20" stroke="#000" stroke-width="1.8"/>
<line x1="648.30" y1="150.30" x2="648.30" y2="162.90" stroke="#000" stroke-width="1.8"/>
<line x1="527.80" y1="149.78" x2="533.00" y2="149.78" stroke="#000" stroke-width="1.6"/>
<line x1="677.20" y1="149.78" x2="672.00" y2="149.78" stroke="#000" stroke-width="1.6"/>
<line x1="527.80" y1="143.96" x2="533.00" y2="143.96" stroke="#000" stroke-width="1.6"/>
<line x1="677.20" y1="143.96" x2="672.00" y2="143.96" stroke="#000" stroke-width="1.6"/>
<line x1="527.80" y1="139.21" x2="533.00" y2="139.21" stroke="#000" stroke-width="1.6"/>
<line x1="677.20" y1="139.21" x2="672.00" y2="139.21" stroke="#000" stroke-width="1.6"/>
<line x1="527.80" y1="135.19" x2="533.00" y2="135.19" stroke="#000" stroke-width="1.6"/>
<line x1="677.20" y1="135.19" x2="672.00" y2="135.19" stroke="#000" stroke-width="1.6"/>
<line x1="527.80" y1="131.71" x2="533.00" y2="131.71" stroke="#000" stroke-width="1.6"/>
<line x1="677.20" y1="131.71" x2="672.00" y2="131.71" stroke="#000" stroke-width="1.6"/>
<line x1="527.80" y1="128.65" x2="533.00" y2="128.65" stroke="#000" stroke-width="1.6"/>
<line x1="677.20" y1="128.65" x2="672.00" y2="128.65" stroke="#000" stroke-width="1.6"/>
<line x1="527.80" y1="125.90" x2="534.30" y2="125.90" stroke="#000" stroke-width="1.6"/>
<line x1="677.20" y1="125.90" x2="670.70" y2="125.90" stroke="#000" stroke-width="1.6"/>
<line x1="527.80" y1="107.84" x2="533.00" y2="107.84" stroke="#000" stroke-width="1.6"/>
<line x1="677.20" y1="107.84" x2="672.00" y2="107.84" stroke="#000" stroke-width="1.6"/>
<line x1="527.80" y1="97.27" x2="533.00" y2="97.27" stroke="#000" stroke-width="1.6"/>
<line x1="677.20" y1="97.27" x2="672.00" y2="97.27" stroke="#000" stroke-width="1.6"/>
<line x1="527.80" y1="89.78" x2="533.00" y2="89.78" stroke="#000" stroke-width="1.6"/>
<line x1="677.20" y1="89.78" x2="672.00" y2="89.78" stroke="#000" stroke-width="1.6"/>
<line x1="527.80" y1="83.96" x2="533.00" y2="83.96" stroke="#000" stroke-width="1.6"/>
<line x1="677.20" y1="83.96" x2="672.00" y2="83.96" stroke="#000" stroke-width="1.6"/>
<line x1="527.80" y1="79.21" x2="533.00" y2="79.21" stroke="#000" stroke-width="1.6"/>
<line x1="677.20" y1="79.21" x2="672.00" y2="79.21" stroke="#000" stroke-width="1.6"/>
<line x1="527.80" y1="75.19" x2="533.00" y2="75.19" stroke="#000" stroke-width="1.6"/>
<line x1="677.20" y1="75.19" x2="672.00" y2="75.19" stroke="#000" stroke-width="1.6"/>
<line x1="527.80" y1="71.71" x2="533.00" y2="71.71" stroke="#000" stroke-width="1.6"/>
<line x1="677.20" y1="71.71" x2="672.00" y2="71.71" stroke="#000" stroke-width="1.6"/>
<line x1="527.80" y1="68.65" x2="533.00" y2="68.65" stroke="#000" stroke-width="1.6"/>
<line x1="677.20" y1="68.65" x2="672.00" y2="68.65" stroke="#000" stroke-width="1.6"/>
<line x1="527.80" y1="65.90" x2="534.30" y2="65.90" stroke="#000" stroke-width="1.6"/>
<line x1="677.20" y1="65.90" x2="670.70" y2="65.90" stroke="#000" stroke-width="1.6"/>
<line x1="527.80" y1="47.84" x2="533.00" y2="47.84" stroke="#000" stroke-width="1.6"/>
<line x1="677.20" y1="47.84" x2="672.00" y2="47.84" stroke="#000" stroke-width="1.6"/>
<line x1="527.80" y1="37.27" x2="533.00" y2="37.27" stroke="#000" stroke-width="1.6"/>
<line x1="677.20" y1="37.27" x2="672.00" y2="37.27" stroke="#000" stroke-width="1.6"/>
<line x1="527.80" y1="29.78" x2="533.00" y2="29.78" stroke="#000" stroke-width="1.6"/>
<line x1="677.20" y1="29.78" x2="672.00" y2="29.78" stroke="#000" stroke-width="1.6"/>
<line x1="527.80" y1="23.96" x2="533.00" y2="23.96" stroke="#000" stroke-width="1.6"/>
<line x1="677.20" y1="23.96" x2="672.00" y2="23.96" stroke="#000" stroke-width="1.6"/>
<line x1="527.80" y1="19.21" x2="533.00" y2="19.21" stroke="#000" stroke-width="1.6"/>
<line x1="677.20" y1="19.21" x2="672.00" y2="19.21" stroke="#000" stroke-width="1.6"/>
<line x1="527.80" y1="15.19" x2="533.00" y2="15.19" stroke="#000" stroke-width="1.6"/>
<line x1="677.20" y1="15.19" x2="672.00" y2="15.19" stroke="#000" stroke-width="1.6"/>
<line x1="527.80" y1="11.71" x2="533.00" y2="11.71" stroke="#000" stroke-width="1.6"/>
<line x1="677.20" y1="11.71" x2="672.00" y2="11.71" stroke="#000" stroke-width="1.6"/>
<line x1="527.80" y1="8.65" x2="533.00" y2="8.65" stroke="#000" stroke-width="1.6"/>
<line x1="677.20" y1="8.65" x2="672.00" y2="8.65" stroke="#000" stroke-width="1.6"/>
<line x1="527.80" y1="300.48" x2="533.00" y2="300.48" stroke="#000" stroke-width="1.6"/>
<line x1="677.20" y1="300.48" x2="672.00" y2="300.48" stroke="#000" stroke-width="1.6"/>
<line x1="527.80" y1="294.66" x2="533.00" y2="294.66" stroke="#000" stroke-width="1.6"/>
<line x1="677.20" y1="294.66" x2="672.00" y2="294.66" stroke="#000" stroke-width="1.6"/>
<line x1="527.80" y1="289.91" x2="533.00" y2="289.91" stroke="#000" stroke-width="1.6"/>
<line x1="677.20" y1="289.91" x2="672.00" y2="289.91" stroke="#000" stroke-width="1.6"/>
<line x1="527.80" y1="285.89" x2="533.00" y2="285.89" stroke="#000" stroke-width="1.6"/>
<line x1="677.20" y1="285.89" x2="672.00" y2="285.89" stroke="#000" stroke-width="1.6"/>
<line x1="527.80" y1="282.41" x2="533.00" y2="282.41" stroke="#000" stroke-width="1.6"/>
<line x1="677.20" y1="282.41" x2="672.00" y2="282.41" stroke="#000" stroke-width="1.6"/>
<line x1="527.80" y1="279.35" x2="533.00" y2="279.35" stroke="#000" stroke-width="1.6"/>
<line x1="677.20" y1="279.35" x2="672.00" y2="279.35" stroke="#000" stroke-width="1.6"/>
<line x1="527.80" y1="276.60" x2="534.30" y2="276.60" stroke="#000" stroke-width="1.6"/>
<line x1="677.20" y1="276.60" x2="670.70" y2="276.60" stroke="#000" stroke-width="1.6"/>
<line x1="527.80" y1="258.54" x2="533.00" y2="258.54" stroke="#000" stroke-width="1.6"/>
<line x1="677.20" y1="258.54" x2="672.00" y2="258.54" stroke="#000" stroke-width="1.6"/>
<line x1="527.80" y1="247.97" x2="533.00" y2="247.97" stroke="#000" stroke-width="1.6"/>
<line x1="677.20" y1="247.97" x2="672.00" y2="247.97" stroke="#000" stroke-width="1.6"/>
<line x1="527.80" y1="240.48" x2="533.00" y2="240.48" stroke="#000" stroke-width="1.6"/>
<line x1="677.20" y1="240.48" x2="672.00" y2="240.48" stroke="#000" stroke-width="1.6"/>
<line x1="527.80" y1="234.66" x2="533.00" y2="234.66" stroke="#000" stroke-width="1.6"/>
<line x1="677.20" y1="234.66" x2="672.00" y2="234.66" stroke="#000" stroke-width="1.6"/>
<line x1="527.80" y1="229.91" x2="533.00" y2="229.91" stroke="#000" stroke-width="1.6"/>
<line x1="677.20" y1="229.91" x2="672.00" y2="229.91" stroke="#000" stroke-width="1.6"/>
<line x1="527.80" y1="225.89" x2="533.00" y2="225.89" stroke="#000" stroke-width="1.6"/>
<line x1="677.20" y1="225.89" x2="672.00" y2="225.89" stroke="#000" stroke-width="1.6"/>
<line x1="527.80" y1="222.41" x2="533.00" y2="222.41" stroke="#000" stroke-width="1.6"/>
<line x1="677.20" y1="222.41" x2="672.00" y2="222.41" stroke="#000" stroke-width="1.6"/>
<line x1="527.80" y1="219.35" x2="533.00" y2="219.35" stroke="#000" stroke-width="1.6"/>
<line x1="677.20" y1="219.35" x2="672.00" y2="219.35" stroke="#000" stroke-width="1.6"/>
<line x1="527.80" y1="216.60" x2="534.30" y2="216.60" stroke="#000" stroke-width="1.6"/>
<line x1="677.20" y1="216.60" x2="670.70" y2="216.60" stroke="#000" stroke-width="1.6"/>
<line x1="527.80" y1="198.54" x2="533.00" y2="198.54" stroke="#000" stroke-width="1.6"/>
<line x1="677.20" y1="198.54" x2="672.00" y2="198.54" stroke="#000" stroke-width="1.6"/>
<line x1="527.80" y1="187.97" x2="533.00" y2="187.97" stroke="#000" stroke-width="1.6"/>
<line x1="677.20" y1="187.97" x2="672.00" y2="187.97" stroke="#000" stroke-width="1.6"/>
<line x1="527.80" y1="180.48" x2="533.00" y2="180.48" stroke="#000" stroke-width="1.6"/>
<line x1="677.20" y1="180.48" x2="672.00" y2="180.48" stroke="#000" stroke-width="1.6"/>
<line x1="527.80" y1="174.66" x2="533.00" y2="174.66" stroke="#000" stroke-width="1.6"/>
<line x1="677.20" y1="174.66" x2="672.00" y2="174.66" stroke="#000" stroke-width="1.6"/>
<line x1="527.80" y1="169.91" x2="533.00" y2="169.91" stroke="#000" stroke-width="1.6"/>
<line x1="677.20" y1="169.91" x2="672.00" y2="169.91" stroke="#000" stroke-width="1.6"/>
<line x1="527.80" y1="165.89" x2="533.00" y2="165.89" stroke="#000" stroke-width="1.6"/>
<line x1="677.20" y1="165.89" x2="672.00" y2="165.89" stroke="#000" stroke-width="1.6"/>
<line x1="527.80" y1="162.41" x2="533.00" y2="162.41" stroke="#000" stroke-width="1.6"/>
<line x1="677.20" y1="162.41" x2="672.00" y2="162.41" stroke="#000" stroke-width="1.6"/>
<line x1="527.80" y1="159.35" x2="533.00" y2="159.35" stroke="#000" stroke-width="1.6"/>
<line x1="677.20" y1="159.35" x2="672.00" y2="159.35" stroke="#000" stroke-width="1.6"/>
<text x="516.80" y="11.50" font-size="16" text-anchor="end" fill="#000" font-family='"Liberation Sans", sans-serif' >100</text>
<text x="516.80" y="71.50" font-size="16" text-anchor="end" fill="#000" font-family='"Liberation Sans", sans-serif' >10</text>
<text x="516.80" y="131.50" font-size="16" text-anchor="end" fill="#000" font-family='"Liberation Sans", sans-serif' >1</text>
<text x="516.80" y="162.20" font-size="16" text-anchor="end" fill="#000" font-family='"Liberation Sans", sans-serif' >100</text>
<text x="516.80" y="222.20" font-size="16" text-anchor="end" fill="#000" font-family='"Liberation Sans", sans-serif' >10</text>
<text x="516.80" y="282.20" font-size="16" text-anchor="end" fill="#000" font-family='"Liberation Sans", sans-serif' >1</text>
<text x="534.30" y="329.00" font-size="16" text-anchor="middle" fill="#000" font-family='"Liberation Sans", sans-serif' >0</text>
<text x="562.80" y="329.00" font-size="16" text-anchor="middle" fill="#000" font-family='"Liberation Sans", sans-serif' >10</text>
<text x="591.30" y="329.00" font-size="16" text-anchor="middle" fill="#000" font-family='"Liberation Sans", sans-serif' >20</text>
<text x="619.80" y="329.00" font-size="16" text-anchor="middle" fill="#000" font-family='"Liberation Sans", sans-serif' >30</text>
<text x="648.30" y="329.00" font-size="16" text-anchor="middle" fill="#000" font-family='"Liberation Sans", sans-serif' >40</text>
<text x="676.80" y="329.00" font-size="16" text-anchor="middle" fill="#000" font-family='"Liberation Sans", sans-serif' >50</text>
<text x="-1.00" y="15.90" font-size="20.5" text-anchor="start" fill="#000" font-family='"Liberation Sans", sans-serif' font-weight="bold">a</text>
<text x="241.30" y="15.70" font-size="20.5" text-anchor="start" fill="#000" font-family='"Liberation Sans", sans-serif' font-weight="bold">b</text>
<text x="241.50" y="204.50" font-size="20.5" text-anchor="start" fill="#000" font-family='"Liberation Sans", sans-serif' font-weight="bold">c</text>
<text x="474.40" y="15.80" font-size="20.5" text-anchor="start" fill="#000" font-family='"Liberation Sans", sans-serif' font-weight="bold">d</text>
<text transform="translate(13.20,166.00) rotate(-90)" font-size="17.6" text-anchor="middle" font-family='"Liberation Sans", sans-serif'>fluorescence (kcps)</text>
<text transform="translate(255.50,78.70) rotate(-90)" font-size="17.6" text-anchor="middle" font-family='"Liberation Sans", sans-serif'>fluor. (kcps)</text>
<text transform="translate(255.50,262.80) rotate(-90)" font-size="17.6" text-anchor="middle" font-family='"Liberation Sans", sans-serif'>fluor. (kcps)</text>
<text transform="translate(488.40,161.10) rotate(-90)" font-size="17.6" text-anchor="middle" font-family='"Liberation Sans", sans-serif'>occurrences (%)</text>
<text x="108.40" y="350.70" font-size="19.5" font-style="italic" font-family='"Liberation Sans", sans-serif'>t</text>
<text x="135.55" y="350.70" font-size="17.6" text-anchor="middle" font-family='"Liberation Sans", sans-serif'>(µs)</text>
<text x="355.10" y="194.60" font-size="19.5" font-style="italic" font-family='"Liberation Sans", sans-serif'>t</text>
<text x="378.35" y="194.60" font-size="17.6" text-anchor="middle" font-family='"Liberation Sans", sans-serif'>(s)</text>
<text x="348.00" y="350.70" font-size="19.5" font-style="italic" font-family='"Liberation Sans", sans-serif'>t</text>
<text x="377.05" y="350.70" font-size="17.6" text-anchor="middle" font-family='"Liberation Sans", sans-serif'>(ms)</text>
<text x="602.30" y="351.00" font-size="17.6" text-anchor="middle" fill="#000" font-family='"Liberation Sans", sans-serif' >#photons</text>
</svg>
</body></html>
